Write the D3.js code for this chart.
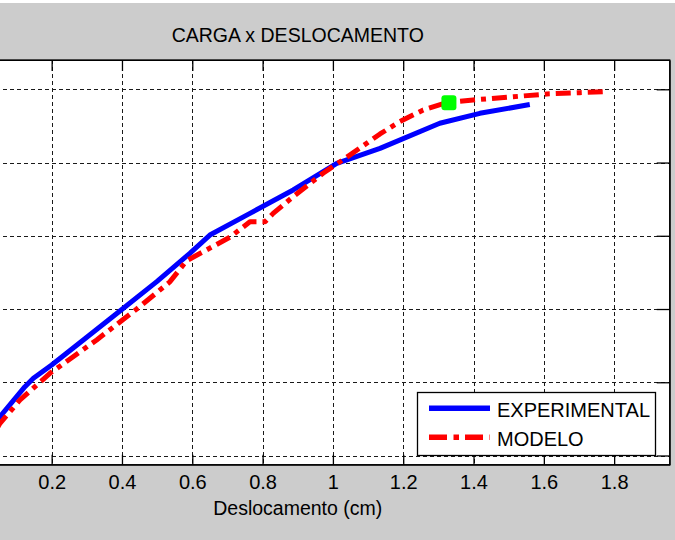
<!DOCTYPE html>
<html><head><meta charset="utf-8">
<script src="https://cdn.jsdelivr.net/npm/d3@7"></script>
<style>
body{margin:0;background:#cccccc;}
svg{display:block;font-family:"Liberation Sans",Arial,Helvetica,sans-serif;}
</style></head>
<body><svg id="c" width="675" height="540"></svg>
<script>
const title = "CARGA x DESLOCAMENTO";
const xLabel = "Deslocamento (cm)";
const xTicks = [0.2, 0.4, 0.6, 0.8, 1.0, 1.2, 1.4, 1.6, 1.8];
const xTickLabels = ["0.2", "0.4", "0.6", "0.8", "1", "1.2", "1.4", "1.6", "1.8"];
const yTicks = [0, 5, 10, 15, 20, 25];
const seriesNames = ["EXPERIMENTAL", "MODELO"];
const expX = [0, 0.053, 0.124, 0.148, 0.200, 0.299, 0.404, 0.499, 0.593, 0.650, 0.764, 0.887, 1.011, 1.134, 1.304, 1.418, 1.560];
const expY = [0, 2.65, 4.70, 5.27, 6.18, 8.06, 10.05, 11.87, 13.80, 15.05, 16.53, 18.13, 19.95, 20.97, 22.68, 23.36, 23.96];
const modX = [0, 0.053, 0.110, 0.195, 0.328, 0.442, 0.536, 0.584, 0.707, 0.764, 0.807, 0.830, 0.887, 0.972, 1.048, 1.134, 1.190, 1.257, 1.327, 1.399, 1.513, 1.608, 1.702, 1.778];
const modY = [0, 2.20, 3.79, 5.61, 7.89, 10.0, 11.85, 13.30, 14.90, 15.96, 15.96, 16.53, 17.67, 19.27, 20.51, 21.95, 22.79, 23.59, 24.11, 24.27, 24.49, 24.68, 24.77, 24.84];
const markerX = [1.330];
const markerY = [24.08];

const L = -74.2, R = 669.7, T = 60, B = 464.7;
const svg = d3.select("#c");
const x = d3.scaleLinear().domain([-0.158, 1.958]).range([L, R]);
const y = d3.scaleLinear().domain([-0.628, 27.0]).range([B, T]);

svg.append("rect").attr("x",0).attr("y",0).attr("width",675).attr("height",3).attr("fill","#ffffff");

// plot background
svg.append("rect").attr("x", L).attr("y", T).attr("width", R - L).attr("height", B - T).attr("fill", "#ffffff");

svg.append("defs").append("clipPath").attr("id","clip").append("rect")
  .attr("x", L).attr("y", T).attr("width", R - L).attr("height", B - T);

// grid
const grid = svg.append("g").attr("stroke", "#1a1a1a").attr("stroke-width", 1).attr("stroke-dasharray", "4,3").attr("shape-rendering","crispEdges");
grid.selectAll(".gx").data(xTicks).join("line")
  .attr("x1", d => Math.round(x(d)) + 0.5).attr("x2", d => Math.round(x(d)) + 0.5)
  .attr("y1", T).attr("y2", B);
grid.selectAll(".gy").data(yTicks).join("line")
  .attr("y1", d => Math.round(y(d)) + 0.5).attr("y2", d => Math.round(y(d)) + 0.5)
  .attr("x1", L).attr("x2", R);

// axes
const fmt = d => xTickLabels[xTicks.indexOf(d)];
const axB = svg.append("g").attr("transform", `translate(0,${B})`)
  .call(d3.axisBottom(x).tickValues(xTicks).tickFormat(fmt).tickSizeInner(-10).tickSizeOuter(0).tickPadding(10));
const axT = svg.append("g").attr("transform", `translate(0,${T})`)
  .call(d3.axisTop(x).tickValues(xTicks).tickFormat("").tickSizeInner(-11).tickSizeOuter(0));
const axL = svg.append("g").attr("transform", `translate(${L},0)`)
  .call(d3.axisLeft(y).tickValues(yTicks).tickFormat("").tickSizeInner(-13).tickSizeOuter(0));
const axR = svg.append("g").attr("transform", `translate(${R},0)`)
  .call(d3.axisRight(y).tickValues(yTicks).tickFormat("").tickSizeInner(-13).tickSizeOuter(0));
[axB, axT, axL, axR].forEach(a => {
  a.selectAll("path").attr("stroke", "#000").attr("stroke-width", 1);
  a.selectAll("line").attr("stroke", "#000").attr("stroke-width", 1.3);
  a.selectAll("text").attr("font-size", 20).attr("fill", "#000").attr("font-family", '"Liberation Sans",Arial,sans-serif');
});
svg.append("rect").attr("x", L).attr("y", T).attr("width", R - L).attr("height", B - T)
  .attr("fill", "none").attr("stroke", "#000").attr("stroke-width", 1.3);

// series
const line = d3.line().x(d => x(d[0])).y(d => y(d[1]));
const plot = svg.append("g").attr("clip-path", "url(#clip)");
plot.append("path").datum(expX.map((v, i) => [v, expY[i]]))
  .attr("d", line).attr("fill", "none").attr("stroke", "#0000ff").attr("stroke-width", 5).attr("stroke-linejoin", "round");
plot.append("path").datum(modX.map((v, i) => [v, modY[i]]))
  .attr("d", line).attr("fill", "none").attr("stroke", "#ff0000").attr("stroke-width", 5)
  .attr("stroke-dasharray", "15,6,5,6").attr("stroke-linejoin", "round");
plot.selectAll(".mk").data(markerX.map((v, i) => [v, markerY[i]])).join("rect")
  .attr("x", d => x(d[0]) - 7.5).attr("y", d => y(d[1]) - 7.5).attr("width", 15).attr("height", 15)
  .attr("rx", 3).attr("fill", "#00ff00");

// title & label
svg.append("text").attr("x", (L + R) / 2).attr("y", 41.7).attr("text-anchor", "middle")
  .attr("font-size", 19.5).attr("fill", "#000").text(title);
svg.append("text").attr("x", (L + R) / 2).attr("y", 515).attr("text-anchor", "middle")
  .attr("font-size", 19.5).attr("fill", "#000").text(xLabel);

// legend
const lg = svg.append("g");
lg.append("rect").attr("x", 417.5).attr("y", 392.5).attr("width", 238).attr("height", 63)
  .attr("fill", "#ffffff").attr("stroke", "#000").attr("stroke-width", 1.3);
const lgY = [408.3, 437.3];
const lgStyle = [{c: "#0000ff", d: null}, {c: "#ff0000", d: "18,6.5,5.5,6"}];
seriesNames.forEach((n, i) => {
  const l = lg.append("line").attr("x1", 429).attr("x2", 490).attr("y1", lgY[i]).attr("y2", lgY[i])
    .attr("stroke", lgStyle[i].c).attr("stroke-width", 5.5);
  if (lgStyle[i].d) l.attr("stroke-dasharray", lgStyle[i].d);
  lg.append("text").attr("x", 497).attr("y", lgY[i] + 9).attr("font-size", 20).attr("fill", "#000").text(n);
});
</script></body></html>
